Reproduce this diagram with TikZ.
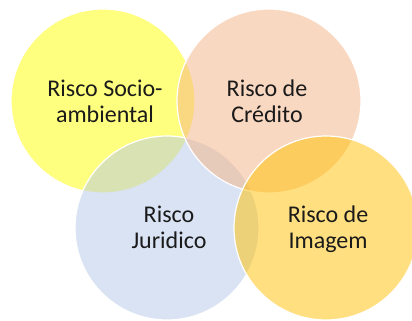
\documentclass[tikz,border=0pt]{standalone}
\usepackage{fontspec}
\setmainfont{Carlito}
\definecolor{cyellow}{HTML}{FFFF00}
\definecolor{csalmon}{HTML}{F4B183}
\definecolor{cblue}{HTML}{B4C7E7}
\definecolor{cgold}{HTML}{FFC000}
\definecolor{ctext}{HTML}{1A1A1A}
\tikzset{
  venn/.style={circle, minimum size=184pt, inner sep=0pt, draw=white, line width=1.2pt, fill opacity=0.5, draw opacity=1},
  lbl/.style={align=center, anchor=base, text=ctext, font=\fontsize{24}{25.5}\selectfont, inner sep=0pt, text opacity=1}
}
\begin{document}
\begin{tikzpicture}[x=1pt, y=-1pt]
\useasboundingbox (0,0) rectangle (412,321);
\clip (0,0) rectangle (412,321);
\node[venn, fill=cyellow] (c1) at (103,101) {};
\node[venn, fill=cblue]   (c3) at (167,228) {};
\node[venn, fill=csalmon] (c2) at (269,101) {};
\node[venn, fill=cgold]   (c4) at (326,228) {};
\node[lbl] (t1) at (105,122)  {Risco Socio-\\ambiental};
\node[lbl] (t2) at (267,122)  {Risco de\\Crédito};
\node[lbl] (t3) at (169,248) {Risco\\Juridico};
\node[lbl] (t4) at (328,248) {Risco de\\Imagem};
\end{tikzpicture}
\end{document}
